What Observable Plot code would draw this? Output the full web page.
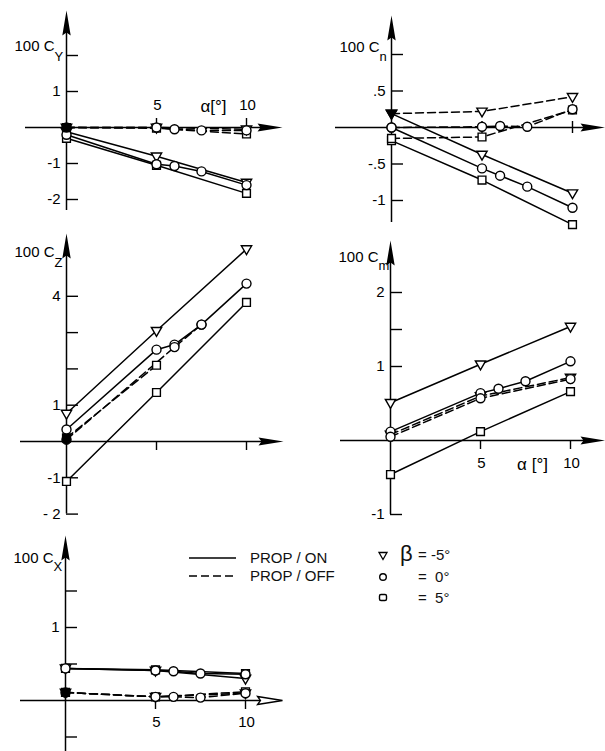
<!DOCTYPE html>
<html>
<head>
<meta charset="utf-8">
<script src="https://cdn.jsdelivr.net/npm/d3@7"></script>
<script src="https://cdn.jsdelivr.net/npm/@observablehq/plot@0.6"></script>
<style>
html,body{margin:0;padding:0;background:#fff;}
#chart{position:relative;width:605px;height:751px;overflow:hidden;font-family:"Liberation Sans",Arial,Helvetica,sans-serif;color:#000;}
#chart > svg{position:absolute;left:0;top:0;}
.lg{position:absolute;font-size:15px;line-height:17px;white-space:pre;color:#111;}
</style>
</head>
<body>
<div id="chart"></div>
<script>
// ---------- data ----------
const alphaFull = [0, 5, 6, 7.5, 10];
const alphaShort = [0, 5, 10];
const xTickValues = [5, 10];

// 100 C_Y
const cyOnM5 = [-0.12, -0.8, -1.53];
const cyOn0 = [-0.2, -1.02, -1.07, -1.22, -1.6];
const cyOnP5 = [-0.3, -1.05, -1.83];
const cyOffM5 = [0, 0, -0.05];
const cyOff0 = [0, 0, -0.05, -0.08, -0.08];
const cyOffP5 = [0, -0.02, -0.18];
const cyTickValues = [2, 1, -1, -2];
const cyTickLabels = ["", "1", "-1", "-2"];

// 100 C_n
const cnOnM5 = [0.19, -0.37, -0.9];
const cnOn0 = [0, -0.56, -0.66, -0.81, -1.1];
const cnOnP5 = [-0.18, -0.72, -1.33];
const cnOffM5 = [0.19, 0.22, 0.42];
const cnOff0 = [0, 0.01, 0.02, 0.01, 0.25];
const cnOffP5 = [-0.15, -0.13, 0.24];
const cnTickValues = [1, 0.5, -0.5, -1];
const cnTickLabels = ["", ".5", "-.5", "-1"];

// 100 C_Z
const czOnM5 = [0.77, 3.05, 5.3];
const czOn0 = [0.33, 2.53, 2.67, 3.22, 4.35];
const czOnP5 = [-1.1, 1.35, 3.83];
const czOffAlpha0 = [0, 6, 7.5];
const czOff0 = [0.05, 2.6, 3.22];
const czOffAlphaP5 = [0, 5];
const czOffP5 = [0.1, 2.1];
const czTickValues = [4, 3, 2, 1, -1, -2];
const czTickLabels = ["4", "", "", "1", "-1", "- 2"];

// 100 C_m
const cmOnM5 = [0.51, 1.03, 1.54];
const cmOn0 = [0.12, 0.64, 0.70, 0.80, 1.07];
const cmOnP5 = [-0.46, 0.12, 0.66];
const cmOffM5 = [0.08, 0.6, 0.85];
const cmOff0 = [0.05, 0.57, 0.83];
const cmTickValues = [2, 1.5, 1, -1];
const cmTickLabels = ["2", "", "1", "-1"];

// 100 C_X
const cxOnM5 = [0.44, 0.41, 0.3];
const cxOn0 = [0.44, 0.41, 0.40, 0.37, 0.36];
const cxOnP5 = [0.44, 0.42, 0.37];
const cxOffM5 = [0.11, 0.05, 0.1];
const cxOff0 = [0.11, 0.05, 0.05, 0.04, 0.1];
const cxOffP5 = [0.11, 0.05, 0.12];
const cxTickValues = [1.5, 1, 0.5, -0.5];
const cxTickLabels = ["", "1", "", ""];

const xTickLabels = ["5", "10"];
const alphaLabel = "α[°]";
const alphaLabel2 = "α [°]";
const legendProp = ["PROP / ON", "PROP / OFF"];
const legendBeta = ["= -5°", "=  0°", "=  5°"];

// ---------- helpers ----------
const S = (prop, beta, alpha, values) => ({prop, beta, alpha, values});

const triDown = {draw(ctx, size) {
  const r = Math.sqrt(size / Math.PI);
  ctx.moveTo(-1.12 * r, -0.72 * r); ctx.lineTo(1.12 * r, -0.72 * r); ctx.lineTo(0, 1.2 * r); ctx.closePath();
}};
const arrowUp = {draw(ctx) {
  ctx.moveTo(0, 0); ctx.lineTo(4.2, 25); ctx.lineTo(0, 22); ctx.lineTo(-4.2, 25); ctx.closePath();
}};
const arrowRight = {draw(ctx) {
  ctx.moveTo(0, 0); ctx.lineTo(-25, -4); ctx.lineTo(-22, 0); ctx.lineTo(-25, 4); ctx.closePath();
}};

const FONT = '"Liberation Sans", Arial, Helvetica, sans-serif';

function panel(p) {
  const X = px => (px - p.x0) / p.xPer;   // absolute px -> x value
  const Y = py => (p.y0 - py) / p.yPer;   // absolute px -> y value
  const lx = px => px / p.xPer;           // px length -> x units
  const ly = py => py / p.yPer;           // px length -> y units

  const rows = p.series.flatMap((s, si) => s.alpha.map((a, i) => ({
    a, v: s.values[i], prop: s.prop, beta: s.beta, key: si,
    filled: s.prop === "OFF" && a === 0 && (!p.fillOnly || p.fillOnly.includes(s.beta))
  })));

  const marks = [];
  // axes
  marks.push(Plot.ruleY([0], {x1: X(p.ax[0]), x2: X(p.ax[1] - 12), stroke: "#000", strokeWidth: 1.5}));
  marks.push(Plot.ruleX([0], {y1: Y(p.ax[3]), y2: Y(p.ax[2] + 12), stroke: "#000", strokeWidth: 1.5}));
  marks.push(Plot.ruleY(p.yTicks, {x1: 0, x2: lx(12), stroke: "#000", strokeWidth: 1.4}));
  const up = p.xTickDir === "up" ? ly(9) : p.xTickDir === "cross" ? ly(6) : 0;
  const dn = p.xTickDir === "down" ? -ly(9) : p.xTickDir === "cross" ? -ly(6) : 0;
  marks.push(Plot.ruleX(xTickValues, {y1: dn, y2: up, stroke: "#000", strokeWidth: 1.4}));
  marks.push(Plot.dot([0], {x: 0, y: Y(p.ax[2]), symbol: arrowUp, fill: "#000", stroke: "none"}));
  marks.push(Plot.dot([0], {x: X(p.ax[1]), y: 0, symbol: arrowRight,
    fill: p.hollow ? "#fff" : "#000", stroke: p.hollow ? "#000" : "none", strokeWidth: 1.3}));

  // tick labels
  const yl = p.yTicks.map((v, i) => ({v, t: p.yLabels[i]})).filter(d => d.t);
  marks.push(Plot.text(yl, {x: 0, y: "v", text: "t", textAnchor: "end", dx: -6, fontSize: 15}));
  if (p.xLabels) {
    const xl = xTickValues.map((v, i) => ({v, t: p.xLabels[i]}));
    marks.push(Plot.text(xl, {x: "v", y: 0, text: "t", dy: p.xLabelDy, dx: 1, fontSize: 15}));
  }
  if (p.alpha) {
    marks.push(Plot.text([p.alpha], {x: X(p.alpha.px), y: 0, text: d => d.t, dy: p.xLabelDy + 1, fontSize: 17}));
  }
  // title 100 C + subscript
  marks.push(Plot.text(["100 C"], {x: 0, y: Y(p.title[0]), text: d => d, textAnchor: "end", dx: -12, fontSize: 15}));
  marks.push(Plot.text([p.sub], {x: 0, y: Y(p.title[1]), text: d => d, textAnchor: "start", dx: -12, fontSize: 13}));

  // lines
  const on = rows.filter(d => d.prop === "ON");
  const off = rows.filter(d => d.prop === "OFF");
  marks.push(Plot.line(on, {x: "a", y: "v", z: "key", stroke: "#000", strokeWidth: 1.5}));
  marks.push(Plot.line(off, {x: "a", y: "v", z: "key", stroke: "#000", strokeWidth: 1.5, strokeDasharray: "8,4"}));

  // markers: squares, triangles, circles
  const sym = {"5": "square", "-5": triDown, "0": "circle"};
  const rad = {"5": 4.4, "-5": 4.6, "0": 4.5};
  for (const b of [5, -5, 0]) {
    const sub = rows.filter(d => d.beta === b);
    marks.push(Plot.dot(sub.filter(d => !d.filled), {x: "a", y: "v", symbol: sym[b], r: rad[b], fill: "#fff", stroke: "#000", strokeWidth: 1.4}));
    marks.push(Plot.dot(sub.filter(d => d.filled), {x: "a", y: "v", symbol: sym[b], r: rad[b], fill: "#000", stroke: "#000", strokeWidth: 1.4}));
  }

  return Plot.plot({
    width: 605, height: 751, margin: 0,
    style: {background: "transparent", fontFamily: FONT, fontSize: "14px", overflow: "visible", color: "#000"},
    x: {type: "linear", domain: [0, 10], range: [p.x0, p.x0 + 10 * p.xPer], axis: null},
    y: {type: "linear", domain: [0, 1], range: [p.y0, p.y0 - p.yPer], axis: null},
    marks
  });
}

const panels = [
  { // C_Y
    x0: 66, y0: 127, xPer: 18, yPer: 36, ax: [25, 282, 10, 210],
    yTicks: cyTickValues, yLabels: cyTickLabels, xTickDir: "up",
    xLabels: xTickLabels, xLabelDy: -22, alpha: {px: 213, t: alphaLabel},
    title: [46, 56], sub: "Y",
    series: [
      S("ON", -5, alphaShort, cyOnM5), S("ON", 0, alphaFull, cyOn0), S("ON", 5, alphaShort, cyOnP5),
      S("OFF", -5, alphaShort, cyOffM5), S("OFF", 0, alphaFull, cyOff0), S("OFF", 5, alphaShort, cyOffP5)
    ]
  },
  { // C_n
    x0: 391, y0: 127, xPer: 18.1, yPer: 73, ax: [335, 605, 15, 222], fillOnly: [-5],
    yTicks: cnTickValues, yLabels: cnTickLabels, xTickDir: "cross",
    title: [47, 56], sub: "n",
    series: [
      S("ON", -5, alphaShort, cnOnM5), S("ON", 0, alphaFull, cnOn0), S("ON", 5, alphaShort, cnOnP5),
      S("OFF", -5, alphaShort, cnOffM5), S("OFF", 0, alphaFull, cnOff0), S("OFF", 5, alphaShort, cnOffP5)
    ]
  },
  { // C_Z
    x0: 66, y0: 441, xPer: 18, yPer: 36.3, ax: [20, 283, 233, 513.6],
    yTicks: czTickValues, yLabels: czTickLabels, xTickDir: "down",
    title: [252, 262], sub: "Z",
    series: [
      S("ON", -5, alphaShort, czOnM5), S("ON", 0, alphaFull, czOn0), S("ON", 5, alphaShort, czOnP5),
      S("OFF", 0, czOffAlpha0, czOff0), S("OFF", 5, czOffAlphaP5, czOffP5)
    ]
  },
  { // C_m
    x0: 390, y0: 440, xPer: 18, yPer: 74, ax: [340, 605, 240, 514], fillOnly: [],
    yTicks: cmTickValues, yLabels: cmTickLabels, xTickDir: "down",
    xLabels: xTickLabels, xLabelDy: 23, alpha: {px: 532, t: alphaLabel2},
    title: [257, 265], sub: "m",
    series: [
      S("ON", -5, alphaShort, cmOnM5), S("ON", 0, alphaFull, cmOn0), S("ON", 5, alphaShort, cmOnP5),
      S("OFF", -5, alphaShort, cmOffM5), S("OFF", 0, alphaShort, cmOff0)
    ]
  },
  { // C_X
    x0: 65, y0: 700, xPer: 18, yPer: 73, ax: [20, 282, 535, 751], hollow: true,
    yTicks: cxTickValues, yLabels: cxTickLabels, xTickDir: "down",
    xLabels: xTickLabels, xLabelDy: 22,
    title: [558, 566], sub: "X",
    series: [
      S("ON", -5, alphaShort, cxOnM5), S("ON", 0, alphaFull, cxOn0), S("ON", 5, alphaShort, cxOnP5),
      S("OFF", -5, alphaShort, cxOffM5), S("OFF", 0, alphaFull, cxOff0), S("OFF", 5, alphaShort, cxOffP5)
    ]
  }
];

const chart = document.getElementById("chart");
for (const p of panels) chart.appendChild(panel(p));

// ---------- legend ----------
const ns = "http://www.w3.org/2000/svg";
function el(tag, attrs, parent) {
  const e = document.createElementNS(ns, tag);
  for (const k in attrs) e.setAttribute(k, attrs[k]);
  if (parent) parent.appendChild(e);
  return e;
}
const lsw = el("svg", {width: 605, height: 751, style: "position:absolute;left:0;top:0;pointer-events:none"});
el("line", {x1: 189, x2: 236, y1: 558, y2: 558, stroke: "#000", "stroke-width": 1.6}, lsw);
el("line", {x1: 189, x2: 236, y1: 576, y2: 576, stroke: "#000", "stroke-width": 1.6, "stroke-dasharray": "8,4"}, lsw);
el("path", {d: "M379,552.5 L387,552.5 L383,559.5 Z", fill: "#fff", stroke: "#000", "stroke-width": 1.3}, lsw);
el("circle", {cx: 383, cy: 577, r: 3.3, fill: "#fff", stroke: "#000", "stroke-width": 1.4}, lsw);
el("rect", {x: 379.5, y: 594.5, width: 7, height: 6, rx: 1.5, fill: "#fff", stroke: "#000", "stroke-width": 1.4}, lsw);
chart.appendChild(lsw);

function label(text, left, top, size) {
  const d = document.createElement("div");
  d.className = "lg"; d.textContent = text;
  d.style.left = left + "px"; d.style.top = top + "px";
  if (size) { d.style.fontSize = size + "px"; d.style.lineHeight = (size + 2) + "px"; }
  chart.appendChild(d);
}
label(legendProp[0], 250, 549);
label(legendProp[1], 250, 567);
label("β", 400, 542, 22);
label(legendBeta[0], 418, 546);
label(legendBeta[1], 418, 568);
label(legendBeta[2], 418, 589);
</script>
</body>
</html>
